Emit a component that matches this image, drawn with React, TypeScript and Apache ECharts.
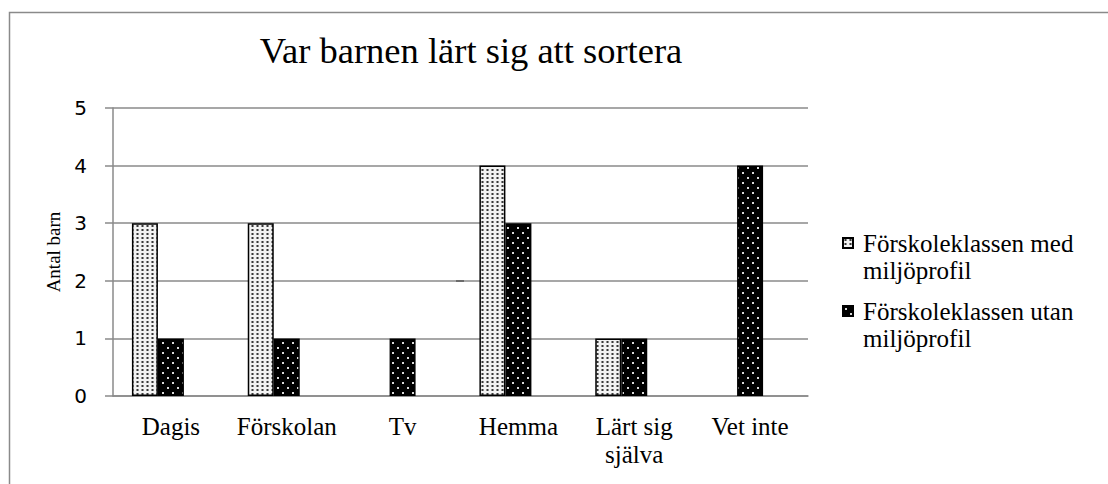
import React, { useEffect, useRef } from "react";
import * as echarts from "echarts";

const title = "Var barnen lärt sig att sortera";
const yAxisName = "Antal barn";
const categories = ["Dagis", "Förskolan", "Tv", "Hemma", "Lärt sig själva", "Vet inte"];
const seriesNames = ["Förskoleklassen med miljöprofil", "Förskoleklassen utan miljöprofil"];
const withProfile = [3, 3, 0, 4, 1, 0];
const withoutProfile = [1, 1, 1, 3, 1, 4];
const yTicks = { min: 0, max: 5, interval: 1 };

const SERIF = "Liberation Serif";
const SANS = "DejaVu Sans";
const GRAY = "#8a8a8a";

function makeLightPattern(): HTMLCanvasElement {
  const c = document.createElement("canvas");
  c.width = 5;
  c.height = 4;
  const ctx = c.getContext("2d")!;
  ctx.fillStyle = "#f2f2f2";
  ctx.fillRect(0, 0, 5, 4);
  ctx.fillStyle = "#909090";
  ctx.fillRect(1, 1, 3, 2);
  ctx.fillStyle = "#383838";
  ctx.fillRect(2, 1, 1, 2);
  return c;
}

function makeDarkPattern(): HTMLCanvasElement {
  const c = document.createElement("canvas");
  c.width = 10;
  c.height = 10;
  const ctx = c.getContext("2d")!;
  ctx.fillStyle = "#000000";
  ctx.fillRect(0, 0, 10, 10);
  ctx.fillStyle = "#d8d8d8";
  ctx.fillRect(2, 2, 2, 2);
  ctx.fillRect(7, 7, 2, 2);
  return c;
}

function toBarData(values: number[]) {
  return values.map((v) => (v === 0 ? { value: v, itemStyle: { borderWidth: 0, opacity: 0 } } : v));
}

function richLines(text: string, tag: string) {
  return text
    .split("\n")
    .map((l) => (l ? `{${tag}|${l}}` : ""))
    .join("\n");
}

export default function App() {
  const ref = useRef<HTMLDivElement>(null);

  useEffect(() => {
    document.body.style.margin = "0";
    const chart = echarts.init(ref.current!, null, { renderer: "svg" });
    const light = { image: makeLightPattern(), repeat: "repeat" } as any;
    const dark = { image: makeDarkPattern(), repeat: "repeat" } as any;

    chart.setOption({
      animation: false,
      backgroundColor: "#ffffff",
      title: {
        text: title,
        left: 471,
        top: 32,
        textAlign: "center",
        padding: 0,
        textStyle: { fontFamily: SERIF, fontSize: 36.5, fontWeight: "normal", color: "#000" },
      },
      graphic: [
        {
          type: "rect",
          shape: { x: 9.5, y: 12.5, width: 1200, height: 600 },
          style: { fill: "none", stroke: GRAY, lineWidth: 1.5 },
          silent: true,
          z: -10,
        },
        {
          type: "rect",
          shape: { x: 456, y: 280, width: 8, height: 2 },
          style: { fill: "#111" },
          silent: true,
        },
      ],
      legend: {
        data: seriesNames,
        orient: "vertical",
        left: 842,
        top: 202.5,
        padding: 0,
        itemWidth: 10,
        itemHeight: 10,
        itemGap: -13,
        icon: "rect",
        formatter: (name: string) =>
          "\n" + richLines(name.replace(" miljöprofil", "\nmiljöprofil"), "t"),
        textStyle: {
          fontFamily: SERIF,
          fontSize: 25,
          lineHeight: 27,
          color: "#000",
          padding: [0, 0, 0, 5],
          rich: {
            t: { fontFamily: SERIF, fontSize: 25, lineHeight: 27, color: "#000" },
          },
        },
      },
      grid: { left: 113, top: 108, right: 300, bottom: 88, containLabel: false },
      xAxis: {
        type: "category",
        data: categories,
        axisLine: { show: true, lineStyle: { color: GRAY, width: 1.5 } },
        axisTick: { show: false },
        axisLabel: {
          fontFamily: SERIF,
          fontSize: 25,
          color: "#000",
          margin: 16,
          interval: 0,
          formatter: (v: string) => richLines(v.replace("Lärt sig ", "Lärt sig\n"), "s"),
          rich: {
            s: { fontFamily: SERIF, fontSize: 25, lineHeight: 28, color: "#000" },
          },
        },
      },
      yAxis: {
        type: "value",
        min: yTicks.min,
        max: yTicks.max,
        interval: yTicks.interval,
        name: yAxisName,
        nameLocation: "middle",
        nameGap: 50,
        nameTextStyle: { fontFamily: SERIF, fontSize: 19, color: "#000" },
        axisLine: { show: true, lineStyle: { color: GRAY, width: 1.5 } },
        axisTick: { show: true, length: 8, lineStyle: { color: GRAY, width: 1.5 } },
        splitLine: { show: true, lineStyle: { color: GRAY, width: 1.5 } },
        axisLabel: { fontFamily: SANS, fontSize: 20, color: "#000", margin: 26 },
      },
      series: [
        {
          name: seriesNames[0],
          type: "bar",
          data: toBarData(withProfile),
          barWidth: 26,
          barGap: "0%",
          itemStyle: { color: light, borderColor: "#000", borderWidth: 1.5 },
        },
        {
          name: seriesNames[1],
          type: "bar",
          data: toBarData(withoutProfile),
          barWidth: 26,
          barGap: "0%",
          itemStyle: { color: dark, borderColor: "#000", borderWidth: 1.5 },
        },
        {
          name: "",
          type: "bar",
          data: [],
          barWidth: 26,
          barGap: "0%",
          silent: true,
        },
      ],
    });

    return () => chart.dispose();
  }, []);

  return <div ref={ref} style={{ width: 1108, height: 484 }} />;
}
